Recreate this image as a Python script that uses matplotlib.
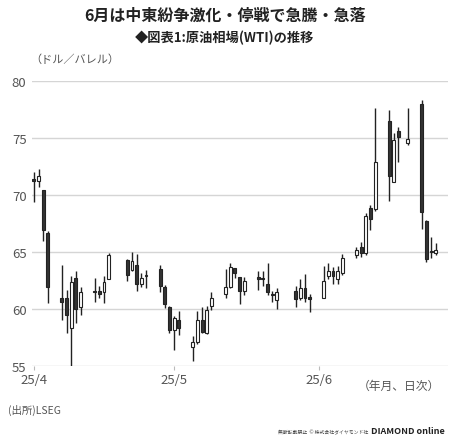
import matplotlib
matplotlib.use("Agg")
import matplotlib.pyplot as plt
import numpy as np
import datetime as dt

plt.rcParams['font.family'] = ['Noto Sans CJK JP', 'DejaVu Sans']

dates = ["04-01","04-02","04-03","04-04","04-07","04-08","04-09","04-10","04-11",
         "04-14","04-15","04-16","04-17","04-21","04-22","04-23","04-24","04-25",
         "04-28","04-29","04-30","05-01","05-02","05-05","05-06","05-07","05-08","05-09",
         "05-12","05-13","05-14","05-15","05-16","05-19","05-20","05-21","05-22","05-23",
         "05-27","05-28","05-29","05-30","06-02","06-03","06-04","06-05","06-06",
         "06-09","06-10","06-11","06-12","06-13","06-16","06-17","06-18","06-20",
         "06-23","06-24","06-25","06-26"]
opens  = [71.4,71.2,70.4,66.7,61.0,61.0,58.3,62.7,60.2,61.6,61.6,61.5,62.6,64.3,63.4,63.9,62.2,62.9,
          63.5,61.9,60.2,58.2,59.0,56.7,57.1,59.0,57.9,60.3,61.3,61.9,63.6,62.8,61.6,62.7,62.7,62.2,61.3,60.8,
          61.6,61.0,61.8,61.0,61.0,62.9,63.3,62.6,63.2,64.7,65.4,64.9,68.9,68.8,76.5,71.1,75.6,74.6,
          78.0,67.7,65.0,64.9]
highs  = [72.0,72.3,70.4,66.8,63.9,61.7,62.9,63.3,61.9,62.7,62.0,62.9,64.9,64.4,65.0,64.8,63.2,63.4,
          63.9,62.1,60.3,59.4,59.8,57.6,59.8,60.2,60.3,61.5,63.5,64.0,63.6,62.8,62.8,63.3,63.3,64.0,61.6,61.8,
          62.0,62.6,63.1,61.3,63.8,64.0,63.7,63.8,64.8,65.4,65.9,68.4,69.1,77.6,77.5,75.4,76.0,77.6,
          78.3,67.8,66.3,65.8]
lows   = [69.4,70.7,66.0,60.5,59.0,57.9,55.0,58.8,59.5,60.6,61.0,60.5,62.6,62.5,63.3,61.6,61.9,61.8,
          61.5,60.1,57.9,56.4,57.7,55.4,56.9,57.9,57.8,59.9,61.0,61.8,62.7,60.4,61.2,61.7,62.0,61.2,60.6,60.0,
          60.2,60.8,60.6,59.7,61.0,62.6,62.2,62.2,63.0,64.5,64.6,64.7,66.9,68.6,69.5,71.1,72.9,74.4,
          67.0,64.1,64.5,64.7]
closes = [71.2,71.7,66.9,61.9,60.6,59.5,62.4,60.0,61.5,61.5,61.3,62.4,64.7,63.0,64.2,62.2,62.7,63.0,
          62.0,60.4,58.2,59.2,58.3,57.1,59.0,58.0,59.9,61.0,61.9,63.7,63.2,61.6,62.5,62.65,62.6,61.5,61.2,61.5,
          60.9,61.8,61.0,60.9,62.5,63.3,62.9,63.3,64.5,65.2,64.9,68.2,67.9,72.9,71.7,74.8,75.1,74.9,
          68.5,64.4,65.05,65.2]
yticks = [55, 60, 65, 70, 75, 80]
xtick_labels = ["25/4", "25/5", "25/6"]
xtick_dates = ["04-01", "05-01", "06-01"]

base = dt.date(2025, 4, 1)
def dayidx(s):
    m, d = map(int, s.split("-"))
    return (dt.date(2025, m, d) - base).days
x = np.array([dayidx(s) for s in dates])

fig = plt.figure(figsize=(4.5, 4.39), dpi=100)
ax = fig.add_axes([32/450, 1-367/439, 416/450, 285/439])
ax.set_xlim(-0.4, 88.6)
ax.set_ylim(55, 80)
for y in yticks:
    ax.axhline(y, color='#d5d5d5', lw=1, zorder=0)
w = 0.62
for xi, o, h, l, c in zip(x, opens, highs, lows, closes):
    ax.vlines(xi, l, h, color='#222222', lw=1, zorder=2)
    b, t = min(o, c), max(o, c)
    ht = max(t - b, 0.12)
    fc = '#333333' if c < o else 'white'
    ax.bar(xi, ht, bottom=b, width=w, color=fc, edgecolor='#222222', lw=0.8, zorder=3)
for s in ax.spines.values():
    s.set_visible(False)
ax.set_yticks(yticks)
ax.set_yticklabels([str(v) for v in yticks], color='#555555', fontsize=9.5)
ax.tick_params(axis='y', length=0, pad=4)
ax.set_xticks([dayidx(s) for s in xtick_dates])
ax.set_xticklabels(xtick_labels, color='#555555', fontsize=9.5)
ax.tick_params(axis='x', length=3, color='#bbbbbb', pad=2)

fig.text(225/450, 1-16/439, "6月は中東紛争激化・停戦で急騰・急落", ha='center', va='center',
         fontsize=11.5, fontweight='bold', color='#222222')
fig.text(225/450, 1-38/439, "◆図表1:原油相場(WTI)の推移", ha='center', va='center',
         fontsize=9.5, fontweight='bold', color='#222222')
fig.text(30/450, 1-60/439, "（ドル／バレル）", ha='left', va='center', fontsize=8, color='#555555')
fig.text(440/450, 1-386/439, "（年月、日次）", ha='right', va='center', fontsize=8.5, color='#555555')
fig.text(8/450, 1-410/439, "(出所)LSEG", ha='left', va='center', fontsize=7.5, color='#555555')
fig.text(368/450, 1-432/439, "無断転載禁止  © 株式会社ダイヤモンド社", ha='right', va='center', fontsize=3.5, color='#444444')
fig.text(445/450, 1-432/439, "DIAMOND online", ha='right', va='center', fontsize=6.5,
         fontweight='bold', color='#222222')
fig.savefig("out.png", dpi=100)
